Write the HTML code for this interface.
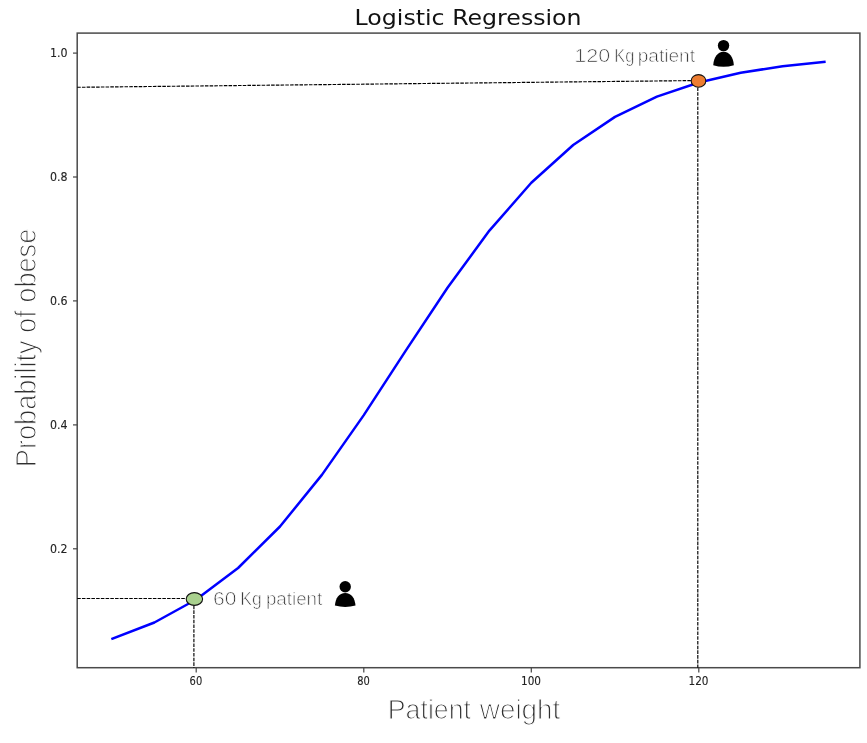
<!DOCTYPE html>
<html lang="en"><head><meta charset="utf-8"><title>Logistic Regression</title>
<style>
html,body{margin:0;padding:0;background:#fff;}
body{width:867px;height:743px;overflow:hidden;}
svg{display:block;}
.tick{font-family:"DejaVu Sans","Liberation Sans",sans-serif;font-size:13px;fill:#222;stroke:#222;stroke-width:0.12px;}
.title{font-family:"DejaVu Sans","Liberation Sans",sans-serif;font-size:21.4px;fill:#111;}
.lab{font-family:"Liberation Sans",sans-serif;fill:#2e2e2e;stroke:#fff;}
</style></head><body>
<svg width="867" height="743" viewBox="0 0 867 743">
<rect width="867" height="743" fill="#fff"/>
<text class="title" x="354.6" y="25.2" textLength="227" lengthAdjust="spacingAndGlyphs">Logistic Regression</text>
<rect x="77.2" y="33.1" width="782.7" height="634.6" fill="none" stroke="#4a4a4a" stroke-width="1.5"/>
<line x1="73.0" y1="53.1" x2="77.2" y2="53.1" stroke="#444" stroke-width="1.2"/><text class="tick" x="50.0" y="57.3" textLength="17.6" lengthAdjust="spacingAndGlyphs">1.0</text>
<line x1="73.0" y1="177.0" x2="77.2" y2="177.0" stroke="#444" stroke-width="1.2"/><text class="tick" x="50.0" y="181.2" textLength="17.6" lengthAdjust="spacingAndGlyphs">0.8</text>
<line x1="73.0" y1="300.9" x2="77.2" y2="300.9" stroke="#444" stroke-width="1.2"/><text class="tick" x="50.0" y="305.1" textLength="17.6" lengthAdjust="spacingAndGlyphs">0.6</text>
<line x1="73.0" y1="424.9" x2="77.2" y2="424.9" stroke="#444" stroke-width="1.2"/><text class="tick" x="50.0" y="429.1" textLength="17.6" lengthAdjust="spacingAndGlyphs">0.4</text>
<line x1="73.0" y1="548.8" x2="77.2" y2="548.8" stroke="#444" stroke-width="1.2"/><text class="tick" x="50.0" y="553.0" textLength="17.6" lengthAdjust="spacingAndGlyphs">0.2</text>
<line x1="196.2" y1="667.7" x2="196.2" y2="672.5" stroke="#444" stroke-width="1.2"/><text class="tick" x="189.6" y="684.8" textLength="12.6" lengthAdjust="spacingAndGlyphs">60</text>
<line x1="363.8" y1="667.7" x2="363.8" y2="672.5" stroke="#444" stroke-width="1.2"/><text class="tick" x="357.2" y="684.8" textLength="12.6" lengthAdjust="spacingAndGlyphs">80</text>
<line x1="531.3" y1="667.7" x2="531.3" y2="672.5" stroke="#444" stroke-width="1.2"/><text class="tick" x="521.0" y="684.8" textLength="20.0" lengthAdjust="spacingAndGlyphs">100</text>
<line x1="698.8" y1="667.7" x2="698.8" y2="672.5" stroke="#444" stroke-width="1.2"/><text class="tick" x="688.5" y="684.8" textLength="20.0" lengthAdjust="spacingAndGlyphs">120</text>
<polyline points="112.5,638.7 154.4,622.5 196.2,599.5 238.1,568.0 280.0,526.5 321.9,474.9 363.8,415.1 405.6,350.9 447.5,287.8 489.4,230.6 531.3,182.7 573.2,145.0 615.0,116.9 656.9,96.6 698.8,82.5 740.7,72.8 782.6,66.2 824.4,61.8" fill="none" stroke="#0000ff" stroke-width="2.5" stroke-linejoin="round" stroke-linecap="square"/>
<line x1="77.2" y1="87.3" x2="691" y2="80.6" stroke="#000" stroke-width="1.15" stroke-dasharray="3.55 1.18" fill="none"/>
<line x1="697.8" y1="87.5" x2="697.8" y2="667.7" stroke="#000" stroke-width="1.15" stroke-dasharray="3.55 1.18" fill="none"/>
<line x1="77.2" y1="598.5" x2="186" y2="598.5" stroke="#000" stroke-width="1.15" stroke-dasharray="3.55 1.18" fill="none"/>
<line x1="193.9" y1="605.6" x2="193.9" y2="667.7" stroke="#000" stroke-width="1.15" stroke-dasharray="3.55 1.18" fill="none"/>
<ellipse cx="698.5" cy="80.9" rx="7.3" ry="6.3" fill="#ed7d31" stroke="#111" stroke-width="1.1"/>
<ellipse cx="194.4" cy="599.0" rx="8.2" ry="6.4" fill="#a9d18e" stroke="#111" stroke-width="1.1"/>
<g transform="translate(723.55,45.6)"><circle cx="0" cy="0" r="5.7" fill="#000"/><path d="M-10.3 19.6 C-9.8 11.6 -6.0 6.1 0 6.1 C6.0 6.1 9.8 11.6 10.3 19.6 Q0 22.6 -10.3 19.6 Z" fill="#000"/></g>
<g transform="translate(345.2,586.8)"><circle cx="0" cy="0" r="5.7" fill="#000"/><path d="M-10.3 18.7 C-9.8 11.2 -6.0 6.1 0 6.1 C6.0 6.1 9.8 11.2 10.3 18.7 Q0 21.6 -10.3 18.7 Z" fill="#000"/></g>
<text class="lab" font-size="18" stroke-width="0.7" y="62.2"><tspan x="574.2" textLength="36.0" lengthAdjust="spacingAndGlyphs">120</tspan> <tspan x="614.3" textLength="20.0" lengthAdjust="spacingAndGlyphs">Kg</tspan> <tspan x="637.7" textLength="57.3" lengthAdjust="spacingAndGlyphs">patient</tspan></text>
<text class="lab" font-size="18" stroke-width="0.7" y="604.6"><tspan x="213.1" textLength="23.5" lengthAdjust="spacingAndGlyphs">60</tspan> <tspan x="240.3" textLength="21.5" lengthAdjust="spacingAndGlyphs">Kg</tspan> <tspan x="265.9" textLength="56.4" lengthAdjust="spacingAndGlyphs">patient</tspan></text>
<text class="lab" font-size="28" stroke-width="1.1" y="719"><tspan x="387.8" textLength="83.2" lengthAdjust="spacingAndGlyphs">Patient</tspan> <tspan x="479.8" textLength="80.5" lengthAdjust="spacingAndGlyphs">weight</tspan></text>
<text class="lab" font-size="29.5" stroke-width="1.15" transform="translate(36.2,467.2) rotate(-90)" x="0" y="0" textLength="238.5" lengthAdjust="spacingAndGlyphs">Probability of obese</text>
</svg>
</body></html>
